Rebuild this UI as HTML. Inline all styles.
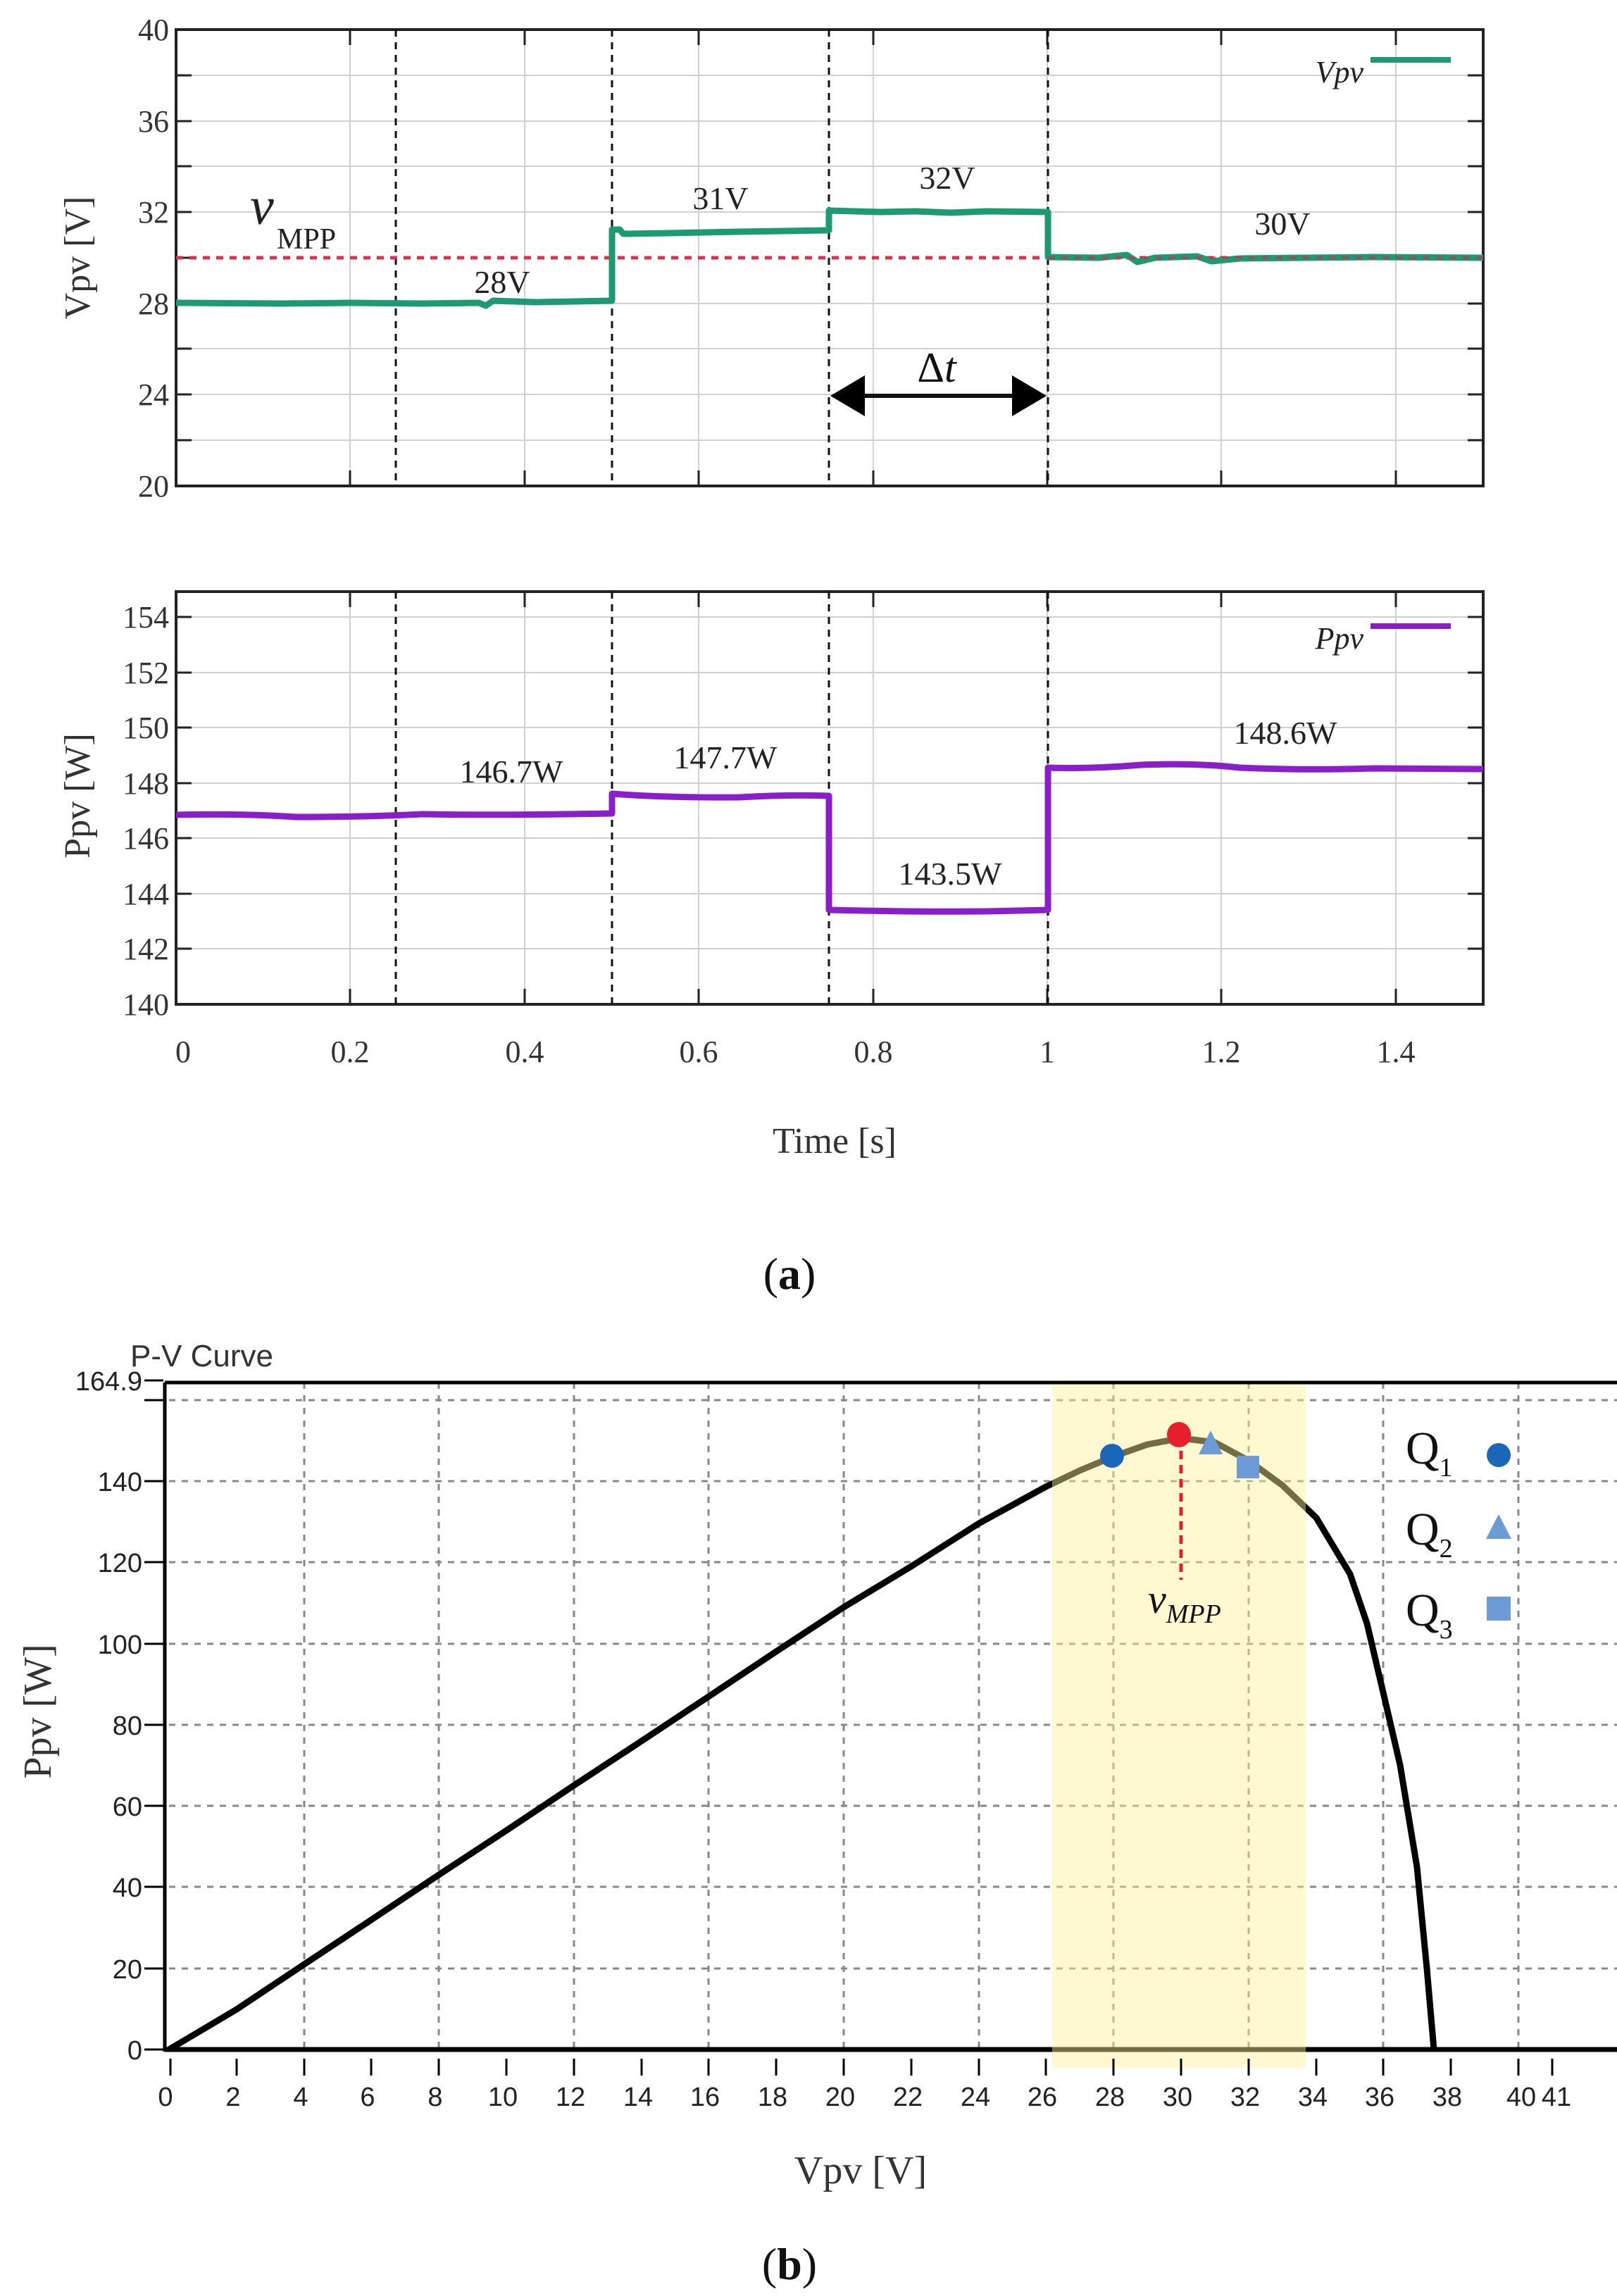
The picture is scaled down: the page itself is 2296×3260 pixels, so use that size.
<!DOCTYPE html>
<html><head><meta charset="utf-8"><style>html,body{margin:0;padding:0;background:#fff}svg{display:block}</style></head>
<body>
<svg width="2296" height="3260" viewBox="0 0 2296 3260" xmlns="http://www.w3.org/2000/svg">
<rect width="2296" height="3260" fill="#fff"/>
<g stroke="#d0d0d0" stroke-width="2">
  <line x1="250" y1="107" x2="2106" y2="107"/><line x1="250" y1="172" x2="2106" y2="172"/>
  <line x1="250" y1="236" x2="2106" y2="236"/><line x1="250" y1="301" x2="2106" y2="301"/>
  <line x1="250" y1="431" x2="2106" y2="431"/><line x1="250" y1="495" x2="2106" y2="495"/>
  <line x1="250" y1="560" x2="2106" y2="560"/><line x1="250" y1="625" x2="2106" y2="625"/>
  <line x1="497" y1="42" x2="497" y2="690"/><line x1="745" y1="42" x2="745" y2="690"/>
  <line x1="992" y1="42" x2="992" y2="690"/><line x1="1240" y1="42" x2="1240" y2="690"/>
  <line x1="1487" y1="42" x2="1487" y2="690"/><line x1="1734" y1="42" x2="1734" y2="690"/>
  <line x1="1982" y1="42" x2="1982" y2="690"/>
</g>
<g stroke="#222" stroke-width="3">
  <path d="M250 107h22M250 172h22M250 236h22M250 301h22M250 366h22M250 431h22M250 495h22M250 560h22M250 625h22"/>
  <path d="M2106 107h-22M2106 172h-22M2106 236h-22M2106 301h-22M2106 366h-22M2106 431h-22M2106 495h-22M2106 560h-22M2106 625h-22"/>
  <path d="M497 42v22M745 42v22M992 42v22M1240 42v22M1487 42v22M1734 42v22M1982 42v22"/>
  <path d="M497 690v-22M745 690v-22M992 690v-22M1240 690v-22M1487 690v-22M1734 690v-22M1982 690v-22"/>
</g>
<rect x="250" y="42" width="1856" height="648" fill="none" stroke="#222" stroke-width="4"/>
<g stroke="#111" stroke-width="3" stroke-dasharray="10,8">
  <line x1="562" y1="42" x2="562" y2="690"/><line x1="869" y1="42" x2="869" y2="690"/>
  <line x1="1177" y1="42" x2="1177" y2="690"/><line x1="1488" y1="42" x2="1488" y2="690"/>
</g>
<line x1="250" y1="366" x2="2106" y2="366" stroke="#e0304a" stroke-width="5" stroke-dasharray="10,9"/>
<path d="M250 430 L400 431 L500 430 L600 431 L680 430 L690 434 L700 427 L760 429 L869 427 L869 326 L880 326 L885 332 L950 331 L1050 329 L1177 327 L1177 299 L1250 301 L1300 300 L1350 302 L1400 300 L1488 301 L1488 365 L1560 366 L1600 362 L1615 372 L1640 366 L1700 364 L1720 371 L1760 367 L1850 366 L1950 365 L2106 366" fill="none" stroke="#1e9a72" stroke-width="9" stroke-linejoin="round"/>
<line x1="1488" y1="366" x2="2106" y2="366" stroke="#c03848" stroke-width="4" stroke-dasharray="10,9" opacity="0.7"/>
<line x1="1946" y1="85" x2="2060" y2="85" stroke="#1e9a72" stroke-width="8"/>
<text x="1936" y="117" font-family="Liberation Serif, serif" font-style="italic" font-size="44" text-anchor="end" fill="#222">Vpv</text>
<g font-family="Liberation Serif, serif" font-size="46" fill="#222" text-anchor="middle">
  <text x="713" y="416">28V</text><text x="1023" y="297">31V</text><text x="1345" y="268">32V</text><text x="1821" y="333">30V</text>
</g>
<text x="355" y="318" font-family="Liberation Serif, serif" font-style="italic" font-size="76" fill="#222">v</text>
<text x="393" y="353" font-family="Liberation Serif, serif" font-size="42" fill="#222">MPP</text>
<line x1="1215" y1="562" x2="1450" y2="562" stroke="#111" stroke-width="6"/>
<polygon points="1179,562 1228,533 1228,591" fill="#000"/>
<polygon points="1486,562 1437,533 1437,591" fill="#000"/>
<text x="1330" y="542" font-family="Liberation Serif, serif" font-size="60" fill="#111" text-anchor="middle">Δ<tspan font-style="italic">t</tspan></text>
<g font-family="Liberation Serif, serif" font-size="44" fill="#333" text-anchor="end">
  <text x="240" y="57">40</text><text x="240" y="187">36</text><text x="240" y="316">32</text>
  <text x="240" y="446">28</text><text x="240" y="575">24</text><text x="240" y="705">20</text>
</g>
<text transform="translate(127,366) rotate(-90)" font-family="Liberation Serif, serif" font-size="52" fill="#333" text-anchor="middle">Vpv [V]</text>

<g stroke="#d0d0d0" stroke-width="2">
  <line x1="250" y1="876" x2="2106" y2="876"/><line x1="250" y1="955" x2="2106" y2="955"/>
  <line x1="250" y1="1033" x2="2106" y2="1033"/><line x1="250" y1="1112" x2="2106" y2="1112"/>
  <line x1="250" y1="1190" x2="2106" y2="1190"/><line x1="250" y1="1269" x2="2106" y2="1269"/>
  <line x1="250" y1="1347" x2="2106" y2="1347"/>
  <line x1="497" y1="840" x2="497" y2="1426"/><line x1="745" y1="840" x2="745" y2="1426"/>
  <line x1="992" y1="840" x2="992" y2="1426"/><line x1="1240" y1="840" x2="1240" y2="1426"/>
  <line x1="1487" y1="840" x2="1487" y2="1426"/><line x1="1734" y1="840" x2="1734" y2="1426"/>
  <line x1="1982" y1="840" x2="1982" y2="1426"/>
</g>
<g stroke="#222" stroke-width="3">
  <path d="M250 876h22M250 955h22M250 1033h22M250 1112h22M250 1190h22M250 1269h22M250 1347h22"/>
  <path d="M2106 876h-22M2106 955h-22M2106 1033h-22M2106 1112h-22M2106 1190h-22M2106 1269h-22M2106 1347h-22"/>
  <path d="M497 840v22M745 840v22M992 840v22M1240 840v22M1487 840v22M1734 840v22M1982 840v22"/>
  <path d="M497 1426v-22M745 1426v-22M992 1426v-22M1240 1426v-22M1487 1426v-22M1734 1426v-22M1982 1426v-22"/>
</g>
<rect x="250" y="840" width="1856" height="586" fill="none" stroke="#222" stroke-width="4"/>
<g stroke="#111" stroke-width="3" stroke-dasharray="10,8">
  <line x1="562" y1="840" x2="562" y2="1426"/><line x1="869" y1="840" x2="869" y2="1426"/>
  <line x1="1177" y1="840" x2="1177" y2="1426"/><line x1="1488" y1="840" x2="1488" y2="1426"/>
</g>
<path d="M250 1157 Q350 1155 420 1160 Q520 1160 600 1156 Q700 1158 869 1155 L869 1127 Q950 1133 1050 1132 Q1120 1128 1177 1130 L1177 1292 Q1300 1295 1400 1294 L1488 1292 L1488 1090 Q1550 1092 1620 1086 Q1700 1083 1760 1090 Q1850 1094 1950 1091 L2106 1092" fill="none" stroke="#8a1ec8" stroke-width="9" stroke-linejoin="round"/>
<line x1="1946" y1="889" x2="2060" y2="889" stroke="#8a1ec8" stroke-width="8"/>
<text x="1936" y="921" font-family="Liberation Serif, serif" font-style="italic" font-size="44" text-anchor="end" fill="#222">Ppv</text>
<g font-family="Liberation Serif, serif" font-size="46" fill="#222" text-anchor="middle">
  <text x="726" y="1111">146.7W</text><text x="1030" y="1091">147.7W</text><text x="1349" y="1256">143.5W</text><text x="1825" y="1056">148.6W</text>
</g>
<g font-family="Liberation Serif, serif" font-size="44" fill="#333" text-anchor="end">
  <text x="240" y="891">154</text><text x="240" y="970">152</text><text x="240" y="1048">150</text>
  <text x="240" y="1127">148</text><text x="240" y="1205">146</text><text x="240" y="1284">144</text>
  <text x="240" y="1362">142</text><text x="240" y="1441">140</text>
</g>
<g font-family="Liberation Serif, serif" font-size="44" fill="#333" text-anchor="middle">
  <text x="260" y="1508">0</text><text x="497" y="1508">0.2</text><text x="745" y="1508">0.4</text>
  <text x="992" y="1508">0.6</text><text x="1240" y="1508">0.8</text><text x="1487" y="1508">1</text>
  <text x="1734" y="1508">1.2</text><text x="1982" y="1508">1.4</text>
</g>
<text transform="translate(127,1130) rotate(-90)" font-family="Liberation Serif, serif" font-size="52" fill="#333" text-anchor="middle">Ppv [W]</text>
<text x="1185" y="1637" font-family="Liberation Serif, serif" font-size="52" fill="#333" text-anchor="middle">Time [s]</text>
<text x="1121" y="1830" font-family="Liberation Serif, serif" font-size="64" fill="#111" text-anchor="middle">(<tspan font-weight="bold">a</tspan>)</text>

<g stroke="#888" stroke-width="3" stroke-dasharray="9,9">
  <line x1="240" y1="1988" x2="2296" y2="1988"/><line x1="240" y1="2103" x2="2296" y2="2103"/>
  <line x1="240" y1="2218" x2="2296" y2="2218"/><line x1="240" y1="2334" x2="2296" y2="2334"/>
  <line x1="240" y1="2449" x2="2296" y2="2449"/><line x1="240" y1="2564" x2="2296" y2="2564"/>
  <line x1="240" y1="2679" x2="2296" y2="2679"/><line x1="240" y1="2795" x2="2296" y2="2795"/>
  <line x1="432" y1="1963" x2="432" y2="2910"/><line x1="623" y1="1963" x2="623" y2="2910"/>
  <line x1="815" y1="1963" x2="815" y2="2910"/><line x1="1006" y1="1963" x2="1006" y2="2910"/>
  <line x1="1198" y1="1963" x2="1198" y2="2910"/><line x1="1390" y1="1963" x2="1390" y2="2910"/>
  <line x1="1581" y1="1963" x2="1581" y2="2910"/><line x1="1773" y1="1963" x2="1773" y2="2910"/>
  <line x1="1964" y1="1963" x2="1964" y2="2910"/><line x1="2156" y1="1963" x2="2156" y2="2910"/>
</g>
<path d="M240 2910 L336 2853 L432 2789 L527 2726 L623 2662 L719 2599 L815 2535 L911 2472 L1006 2409 L1102 2345 L1198 2282 L1294 2224 L1390 2163 L1485 2111 L1533 2088 L1581 2068 L1629 2051 L1677 2042 L1725 2048 L1773 2074 L1821 2109 L1869 2155 L1917 2235 L1941 2305 L1964 2403 L1988 2506 L2012 2651 L2026 2795 L2036 2910" fill="none" stroke="#000" stroke-width="9" stroke-linejoin="round"/>
<line x1="234" y1="2910" x2="2296" y2="2910" stroke="#000" stroke-width="7"/>
<line x1="234" y1="1963" x2="2296" y2="1963" stroke="#000" stroke-width="5"/>
<line x1="234" y1="1963" x2="234" y2="2913" stroke="#000" stroke-width="5"/>
<rect x="1494" y="1966" width="360" height="970" fill="rgb(255,240,150)" opacity="0.45"/>
<line x1="1677" y1="2040" x2="1677" y2="2243" stroke="#e02030" stroke-width="5" stroke-dasharray="12,8"/>
<g stroke="#000" stroke-width="3">
  <path d="M205 1960h27M205 1988h27M205 2103h27M205 2218h27M205 2334h27M205 2449h27M205 2564h27M205 2679h27M205 2795h27M205 2910h27"/>
  <path d="M242 2923v24M336 2923v24M432 2923v24M527 2923v24M623 2923v24M719 2923v24M815 2923v24M911 2923v24M1006 2923v24M1102 2923v24M1198 2923v24M1294 2923v24M1390 2923v24M1485 2923v24M1581 2923v24M1677 2923v24M1773 2923v24M1869 2923v24M1964 2923v24M2060 2923v24M2156 2923v24M2204 2923v24"/>
</g>
<circle cx="1579" cy="2067" r="17" fill="#1a66b8"/>
<ellipse cx="1674" cy="2037" rx="17" ry="18" fill="#e8202e"/>
<polygon points="1719,2031 1702,2065 1736,2065" fill="#6c9bd6"/>
<rect x="1756" y="2067" width="32" height="32" fill="#6c9bd6"/>
<g font-family="Liberation Serif, serif" font-size="66" fill="#111">
  <text x="1996" y="2078">Q<tspan font-size="38" dy="18">1</tspan></text>
  <text x="1996" y="2193">Q<tspan font-size="38" dy="18">2</tspan></text>
  <text x="1996" y="2308">Q<tspan font-size="38" dy="18">3</tspan></text>
</g>
<circle cx="2128" cy="2066" r="17" fill="#1a66b8"/>
<polygon points="2128,2150 2110,2185 2146,2185" fill="#6c9bd6"/>
<rect x="2111" y="2267" width="34" height="34" fill="#6c9bd6"/>
<text x="1630" y="2290" font-family="Liberation Serif, serif" font-style="italic" font-size="58" fill="#111">v<tspan font-size="38" dy="14">MPP</tspan></text>
<text x="185" y="1940" font-family="Liberation Sans, sans-serif" font-size="44" fill="#333">P-V Curve</text>
<g font-family="Liberation Sans, sans-serif" font-size="38" fill="#222" text-anchor="end">
  <text x="202" y="1974">164.9</text><text x="202" y="2117">140</text><text x="202" y="2232">120</text>
  <text x="202" y="2348">100</text><text x="202" y="2463">80</text><text x="202" y="2578">60</text>
  <text x="202" y="2693">40</text><text x="202" y="2809">20</text><text x="202" y="2924">0</text>
</g>
<g font-family="Liberation Sans, sans-serif" font-size="38" fill="#222" text-anchor="middle">
  <text x="235" y="2990">0</text><text x="331" y="2990">2</text><text x="427" y="2990">4</text><text x="522" y="2990">6</text>
  <text x="618" y="2990">8</text><text x="714" y="2990">10</text><text x="810" y="2990">12</text><text x="906" y="2990">14</text>
  <text x="1001" y="2990">16</text><text x="1097" y="2990">18</text><text x="1193" y="2990">20</text><text x="1289" y="2990">22</text>
  <text x="1385" y="2990">24</text><text x="1480" y="2990">26</text><text x="1576" y="2990">28</text><text x="1672" y="2990">30</text>
  <text x="1768" y="2990">32</text><text x="1864" y="2990">34</text><text x="1959" y="2990">36</text><text x="2055" y="2990">38</text>
  <text x="2160" y="2990">40</text><text x="2210" y="2990">41</text>
</g>
<text transform="translate(72,2430) rotate(-90)" font-family="Liberation Serif, serif" font-size="56" fill="#333" text-anchor="middle">Ppv [W]</text>
<text x="1222" y="3100" font-family="Liberation Serif, serif" font-size="56" fill="#333" text-anchor="middle">Vpv [V]</text>
<text x="1121" y="3236" font-family="Liberation Serif, serif" font-size="64" fill="#111" text-anchor="middle">(<tspan font-weight="bold">b</tspan>)</text>
</svg>
</body></html>
